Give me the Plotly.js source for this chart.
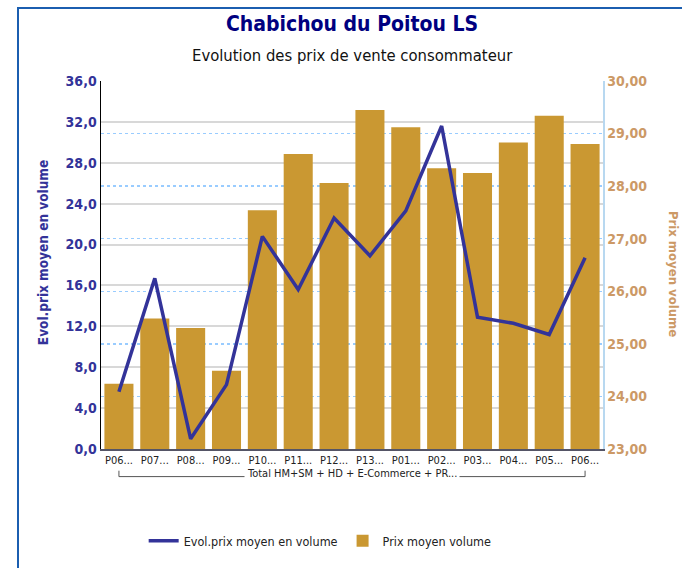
<!DOCTYPE html>
<html>
<head>
<meta charset="utf-8">
<script src="https://cdn.plot.ly/plotly-3.0.1.min.js"></script>
<style>
html,body{margin:0;padding:0;background:#fff;}
#chart{width:682px;height:568px;}
#frame{position:absolute;left:17px;top:7px;width:700px;height:600px;border-left:2px solid #1b5eb0;border-top:2px solid #1b5eb0;pointer-events:none;}
</style>
</head>
<body>
<div id="chart"></div>
<div id="frame"></div>
<script>
// Data
const periods = ["P06...", "P07...", "P08...", "P09...", "P10...", "P11...", "P12...", "P13...", "P01...", "P02...", "P03...", "P04...", "P05...", "P06..."];
const evolPrixMoyen = [5.6, 16.7, 1.0, 6.3, 20.8, 15.6, 22.6, 18.9, 23.3, 31.6, 12.9, 12.3, 11.2, 18.7];
const prixMoyenVolume = [24.24, 25.48, 25.30, 24.49, 27.54, 28.61, 28.06, 29.45, 29.12, 28.34, 28.25, 28.83, 29.34, 28.80];
const groupLabel = "Total HM+SM + HD + E-Commerce + PR...";

const idx = periods.map((_, i) => i);
const FONT = "DejaVu Sans Condensed, DejaVu Sans, sans-serif";
const BLUE = "#333399";
const TAN = "#cc9966";

const data = [
  {
    type: "scatter", mode: "lines", name: "Evol.prix moyen en volume",
    x: idx, y: evolPrixMoyen, yaxis: "y2",
    line: {color: BLUE, width: 3.5}
  },
  {
    type: "bar", name: "Prix moyen volume",
    x: idx, y: prixMoyenVolume, yaxis: "y",
    marker: {color: "#ca9832"}
  }
];

const layout = {
  width: 682, height: 568,
  margin: {l: 101, r: 79, t: 81, b: 115},
  paper_bgcolor: "#fff", plot_bgcolor: "#fff",
  separators: ", ",
  font: {family: FONT, size: 11, color: "#222"},
  showlegend: true,
  bargap: 0.19,
  title: {
    text: "Chabichou du Poitou LS",
    font: {family: FONT, size: 21, color: "#000080", weight: 700},
    x: 0.5, xref: "paper", xanchor: "center",
    y: 1 - 24/568, yref: "container", yanchor: "middle"
  },
  xaxis: {
    range: [-0.5, 13.5], tickmode: "array", tickvals: idx, ticktext: periods,
    showgrid: false, zeroline: false, showline: true, linecolor: "#556", linewidth: 1.5,
    ticks: "", tickfont: {family: FONT, size: 11, color: "#222"}, tickangle: 0
  },
  yaxis: {
    side: "right", range: [23, 30], tick0: 23, dtick: 1, tickformat: ".2f",
    showgrid: true, gridcolor: "#99ccff", griddash: "dot", gridwidth: 1.3,
    zeroline: false, showline: true, linecolor: "#b8d8f0", linewidth: 1.5,
    ticks: "", tickfont: {family: FONT, size: 14, color: TAN, weight: 700}
  },
  yaxis2: {
    overlaying: "y", side: "left", range: [0, 36], tick0: 0, dtick: 4, tickformat: ".1f",
    showgrid: true, gridcolor: "#d8d8d8", gridwidth: 2,
    zeroline: false, showline: true, linecolor: "#000", linewidth: 1.5,
    ticks: "", tickfont: {family: FONT, size: 14, color: BLUE, weight: 700}
  },
  legend: {
    orientation: "h", x: 0.085, xanchor: "left", y: -0.25, yanchor: "middle",
    font: {family: FONT, size: 12.5, color: "#222"}, bgcolor: "rgba(0,0,0,0)"
  },
  shapes: [
    {type: "path", xref: "x", yref: "paper",
     path: "M 0 -0.059 L 0 -0.075 L 13 -0.075 L 13 -0.059",
     line: {color: "#555", width: 1}}
  ],
  annotations: [
    {text: "Evolution des prix de vente consommateur", xref: "paper", yref: "paper",
     x: 0.5, y: (453 - 55) / 372, xanchor: "center", yanchor: "middle", showarrow: false,
     font: {family: FONT, size: 16.5, color: "#111"}},
    {text: groupLabel, xref: "paper", yref: "paper", x: 0.5, y: (453 - 478) / 372,
     xanchor: "center", yanchor: "middle", showarrow: false, bgcolor: "#fff", borderpad: 2,
     font: {family: FONT, size: 11, color: "#222"}},
    {text: "Evol.prix moyen en volume", xref: "paper", yref: "paper",
     x: (43 - 101) / 502, y: (453 - 255) / 372, xanchor: "center", yanchor: "middle",
     textangle: -90, showarrow: false,
     font: {family: FONT, size: 13.5, color: BLUE, weight: 700}},
    {text: "Prix moyen volume", xref: "paper", yref: "paper",
     x: (673 - 101) / 502, y: (453 - 276) / 372, xanchor: "center", yanchor: "middle",
     textangle: 90, showarrow: false,
     font: {family: FONT, size: 13, color: TAN, weight: 700}}
  ]
};

Plotly.newPlot("chart", data, layout, {displayModeBar: false, staticPlot: true});
</script>
</body>
</html>
